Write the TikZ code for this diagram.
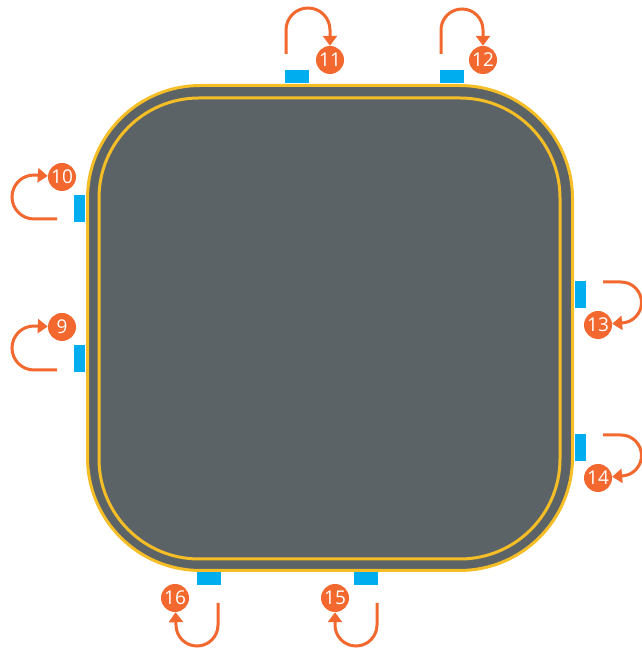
\documentclass[tikz,border=0pt]{standalone}
\usepackage{fontspec}
\setmainfont{Open Sans}
\usetikzlibrary{arrows.meta}

\definecolor{padgray}{RGB}{92,99,102}
\definecolor{rimyellow}{RGB}{246,190,38}
\definecolor{portblue}{RGB}{0,174,239}
\definecolor{steporange}{RGB}{242,104,46}

\begin{document}
\begin{tikzpicture}[x=1pt,y=1pt,
  port/.style={fill=portblue,inner sep=0pt},
  hport/.style={port,minimum width=24pt,minimum height=13pt},
  vport/.style={port,minimum width=11pt,minimum height=27pt},
  num/.style={circle,fill=steporange,text=white,inner sep=0pt,minimum size=28pt,
    font=\fontsize{19}{19}\selectfont},
  turn/.style={draw=steporange,line width=3pt,-{Triangle[length=10pt,width=14pt]}}]

  \useasboundingbox (0,0) rectangle (641,650);

  % the pad
  \draw[rimyellow,fill=padgray,line width=3pt,rounded corners=113pt]
    (87.5,79.5) rectangle (572.5,564.5);
  \draw[rimyellow,line width=3pt,rounded corners=100pt]
    (99,91) rectangle (560,552);

  % ports
  \node[hport] (p11) at (297,573.5) {};
  \node[hport] (p12) at (452,573.5) {};
  \node[vport] (p10) at (79.5,441.5) {};
  \node[vport] (p9)  at (79.5,291.5) {};
  \node[vport] (p13) at (580.5,355.5) {};
  \node[vport] (p14) at (580.5,202.5) {};
  \node[hport] (p16) at (209,71) {};
  \node[hport] (p15) at (366,71) {};

  % numbers
  \node[num] (n11) at (330,590) {11};
  \node[num] (n12) at (483,590) {12};
  \node[num] (n10) at (62,473)  {10};
  \node[num] (n9)  at (62,323)  {9};
  \node[num] (n13) at (598,325) {13};
  \node[num] (n14) at (598,172) {14};
  \node[num] (n16) at (175,52)  {16};
  \node[num] (n15) at (335,52)  {15};

  % where the turns start
  \coordinate (s11) at (286,596);
  \coordinate (s12) at (441,596);
  \coordinate (s10) at (57,431);
  \coordinate (s9)  at (57,280);
  \coordinate (s13) at (603,368);
  \coordinate (s14) at (603,215);
  \coordinate (s16) at (218,47);
  \coordinate (s15) at (377,47);

  \draw[turn] (s11) -- ++(0,24) arc (180:0:22) -- (n11);
  \draw[turn] (s12) -- ++(0,24) arc (180:0:21) -- (n12);
  \draw[turn] (s10) -- ++(-23,0) arc (270:90:22) -- (n10);
  \draw[turn] (s9)  -- ++(-23,0) arc (270:90:22) -- (n9);
  \draw[turn] (s13) -- ++(18,0) arc (90:-90:20.5) -- (n13);
  \draw[turn] (s14) -- ++(18,0) arc (90:-90:20.5) -- (n14);
  \draw[turn] (s16) -- ++(0,-22) arc (0:-180:21) -- (n16);
  \draw[turn] (s15) -- ++(0,-22) arc (0:-180:21) -- (n15);

\end{tikzpicture}
\end{document}
